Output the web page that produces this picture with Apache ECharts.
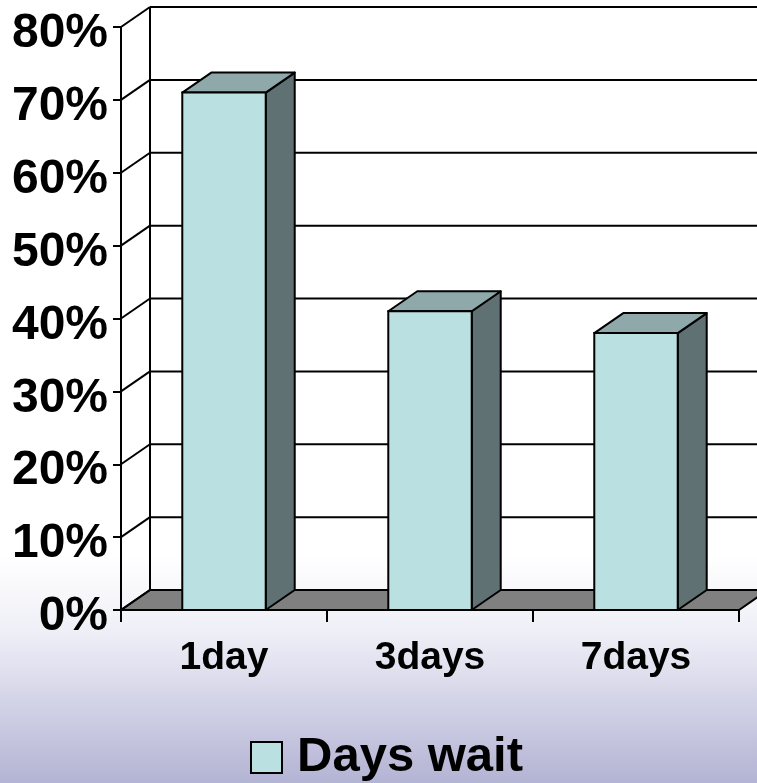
<!DOCTYPE html>
<html>
<head>
<meta charset="utf-8">
<title>Days wait</title>
<script src="https://cdn.jsdelivr.net/npm/echarts@6/dist/echarts.min.js"></script>
<style>
  html, body { margin: 0; padding: 0; background: #fff; }
  #chart { width: 757px; height: 783px; }
</style>
</head>
<body>
<div id="chart"></div>
<script>
// Share of respondents by waiting time
const categories = ['1day', '3days', '7days'];
const waitShare = [71, 41, 38];
const percentTicks = [0, 10, 20, 30, 40, 50, 60, 70, 80];
const seriesName = 'Days wait';

// Oblique depth of the pseudo-3D box (pixels)
const DX = 29;
const DY = -20;
const FONT = '"Liberation Sans", Arial, sans-serif';
const EDGE = { stroke: '#000', lineWidth: 2 };

const chart = echarts.init(document.getElementById('chart'), null, { renderer: 'canvas' });

// Floor, side wall grid and back wall grid
function renderWalls(params, api) {
  const v = api.value(1);
  const cs = params.coordSys;
  const x0 = cs.x;
  const x1 = cs.x + cs.width;
  const y = api.coord([0, v])[1];
  const yZero = api.coord([0, 0])[1];
  const children = [];
  if (v === 0) {
    children.push({
      type: 'polygon',
      shape: { points: [[x0, y], [x1, y], [x1 + DX, y + DY], [x0 + DX, y + DY]] },
      style: { fill: '#808080', stroke: '#000', lineWidth: 2 }
    });
  }
  children.push({
    type: 'line',
    shape: { x1: x0, y1: y, x2: x0 + DX, y2: y + DY },
    style: EDGE
  });
  children.push({
    type: 'line',
    shape: { x1: x0 + DX, y1: y + DY, x2: x1 + DX, y2: y + DY },
    style: EDGE
  });
  if (v === percentTicks[percentTicks.length - 1]) {
    children.push({
      type: 'line',
      shape: { x1: x0 + DX, y1: y + DY, x2: x0 + DX, y2: yZero + DY },
      style: EDGE
    });
  }
  return { type: 'group', children: children };
}

// Column drawn as a box: front face, right side and top
function renderColumn(params, api) {
  const idx = api.value(0);
  const top = api.coord([idx, api.value(1)]);
  const base = api.coord([idx, 0]);
  const w = api.size([1, 0])[0] * 0.405;
  const l = top[0] - w / 2;
  const r = top[0] + w / 2;
  const t = top[1];
  const b = base[1];
  return {
    type: 'group',
    children: [
      {
        type: 'polygon',
        shape: { points: [[r, t], [r + DX, t + DY], [r + DX, b + DY], [r, b]] },
        style: { fill: '#5f7172', stroke: '#000', lineWidth: 2, lineJoin: 'round' }
      },
      {
        type: 'polygon',
        shape: { points: [[l, t], [l + DX, t + DY], [r + DX, t + DY], [r, t]] },
        style: { fill: '#8fa9aa', stroke: '#000', lineWidth: 2, lineJoin: 'round' }
      },
      {
        type: 'rect',
        shape: { x: l, y: t, width: r - l, height: b - t },
        style: { fill: '#bbe0e2', stroke: '#000', lineWidth: 2 }
      }
    ]
  };
}

const option = {
  animation: false,
  backgroundColor: {
    type: 'linear', x: 0, y: 0, x2: 0, y2: 1,
    colorStops: [
      { offset: 0, color: '#ffffff' },
      { offset: 0.71, color: '#ffffff' },
      { offset: 0.81, color: '#eeeef7' },
      { offset: 1, color: '#b3b3d4' }
    ]
  },
  grid: { left: 121, right: 18, top: 27, bottom: 173 },
  xAxis: {
    type: 'category',
    data: categories,
    z: 10,
    axisLine: { show: true, lineStyle: { color: '#000', width: 2 } },
    axisTick: { show: true, length: 12, lineStyle: { color: '#000', width: 2 } },
    axisLabel: {
      margin: 29,
      color: '#000',
      fontSize: 39,
      fontWeight: 'bold',
      fontFamily: FONT
    },
    splitLine: { show: false }
  },
  yAxis: {
    type: 'value',
    min: 0,
    max: 80,
    interval: 10,
    z: 10,
    axisLine: { show: true, lineStyle: { color: '#000', width: 2 } },
    axisTick: { show: true, length: 8, lineStyle: { color: '#000', width: 2 } },
    axisLabel: {
      margin: 13,
      color: '#000',
      fontSize: 48,
      fontWeight: 'bold',
      fontFamily: FONT,
      formatter: '{p|{value}%}',
      rich: {
        p: {
          color: '#000',
          fontSize: 48,
          fontWeight: 'bold',
          fontFamily: FONT,
          padding: [14, 0, 0, 0]
        }
      }
    },
    splitLine: { show: false }
  },
  legend: {
    left: 245,
    top: 728,
    itemWidth: 31,
    itemHeight: 31,
    selectedMode: false,
    data: [{
      name: seriesName,
      icon: 'rect',
      itemStyle: { color: '#bbe0e2', borderColor: '#000', borderWidth: 2 }
    }],
    textStyle: {
      color: '#000',
      fontSize: 49,
      fontWeight: 'bold',
      fontFamily: FONT,
      padding: [0, 0, 0, 10]
    }
  },
  series: [
    {
      type: 'custom',
      name: 'walls',
      z: 1,
      clip: false,
      silent: true,
      renderItem: renderWalls,
      data: percentTicks.map(v => [0, v])
    },
    {
      type: 'custom',
      name: seriesName,
      z: 5,
      clip: false,
      itemStyle: { color: '#bbe0e2' },
      renderItem: renderColumn,
      data: waitShare.map((v, i) => [i, v])
    }
  ]
};

chart.setOption(option);
</script>
</body>
</html>
